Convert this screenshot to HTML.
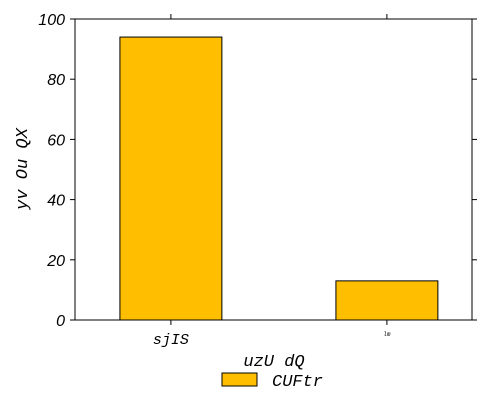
<!DOCTYPE html>
<html><head><meta charset="utf-8"><style>body{margin:0;background:#fff}</style></head>
<body>
<svg width="490" height="420" style="display:block">
<g id="g"></g>
</svg>
<script>
const categories = ["sjIS", "lm"];
const values = [94, 13];
const yTicks = [0, 20, 40, 60, 80, 100];
const NS = "http://www.w3.org/2000/svg";
const g = document.getElementById('g');
const L = 75, R = 472, T = 19, B = 320;
const xMin = -0.444, xMax = 1.394;
const y = v => B - (v / 100) * (B - T);
const xc = i => L + (i - xMin) / (xMax - xMin) * (R - L);
const bw = 0.472 * (R - L) / (xMax - xMin);
function mk(t, a, txt) { const e = document.createElementNS(NS, t); for (const k in a) e.setAttribute(k, a[k]); if (txt !== undefined) e.textContent = txt; g.appendChild(e); return e; }
values.forEach((v, i) => {
  const r = mk('rect', { x: xc(i) - bw / 2, y: y(v), width: bw, height: B - y(v), fill: '#ffbf00', stroke: '#000', 'stroke-width': 1 });
  
  
  mk('line', { x1: xc(i), x2: xc(i), y1: B, y2: B + 5, stroke: '#000' });
  mk('line', { x1: xc(i), x2: xc(i), y1: T, y2: T - 5, stroke: '#000' });
  const lab = mk('text', { x: xc(i), y: i === 0 ? 344 : 336, 'text-anchor': 'middle', 'font-family': 'Liberation Mono, monospace', 'font-style': 'italic', 'font-size': i === 0 ? 15 : 6 }, categories[i]);
  
  
});
yTicks.forEach(v => {
  mk('line', { x1: L - 5, x2: L, y1: y(v), y2: y(v), stroke: '#000' });
  mk('line', { x1: R, x2: R + 5, y1: y(v), y2: y(v), stroke: '#000' });
  const t = mk('text', { x: 65, y: y(v) + 6, 'text-anchor': 'end', 'font-family': 'Liberation Sans, sans-serif', 'font-style': 'italic', 'font-size': 16 }, v);
  
  
});
const fr = mk('rect', { x: L, y: T, width: R - L, height: B - T, fill: 'none', stroke: '#000', 'stroke-width': 1 });


const xl = mk('text', { x: 274, y: 366, 'text-anchor': 'middle', 'font-family': 'Liberation Mono, monospace', 'font-style': 'italic', 'font-size': 17 }, 'uzU dQ');


const yl = mk('text', { x: 0, y: 0, transform: 'translate(27,169) rotate(-90)', 'text-anchor': 'middle', 'font-family': 'Liberation Mono, monospace', 'font-style': 'italic', 'font-size': 17 }, 'yv Ou QX');


const lb = mk('rect', { x: 222, y: 373, width: 35, height: 13, fill: '#ffbf00', stroke: '#000' });


const lt = mk('text', { x: 272, y: 386, 'font-family': 'Liberation Mono, monospace', 'font-style': 'italic', 'font-size': 17 }, 'CUFtr');


</script>
</body></html>
